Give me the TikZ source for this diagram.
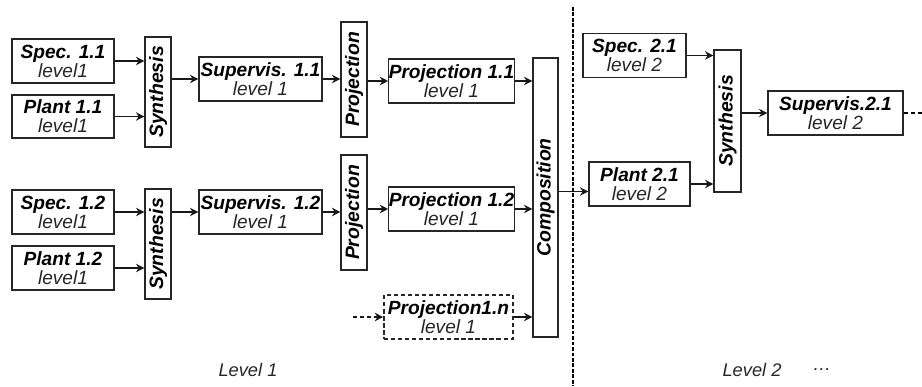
\documentclass[tikz,border=0pt]{standalone}
\usepackage{fontspec}
\setmainfont{Liberation Sans}
\usetikzlibrary{arrows.meta,calc}

\begin{document}
\begin{tikzpicture}[x=0.025cm,y=-0.025cm]
\tikzset{
  blockbox/.style={rectangle,draw=black!85,line width=0.8pt,minimum width=2.55cm,minimum height=1.1cm,inner sep=0pt,align=center,font=\fontsize{13.6}{14.5}\selectfont},
  vertbox/.style={rectangle,draw=black!85,line width=0.8pt,minimum width=0.65cm,inner sep=0pt,font=\fontsize{13.8}{14.5}\selectfont\bfseries\itshape},
  flowarrow/.style={draw=black!90,line width=1.2pt,-{Stealth[length=6pt,width=6pt]}},
  dashedarrow/.style={flowarrow,dash pattern=on 3pt off 2pt},
  levellabel/.style={font=\fontsize{13}{14}\selectfont\itshape,text=black!85}
}
\newcommand{\boxtext}[2]{\textbf{\textit{#1}}\\[-1pt]{\itshape\color{black!85}#2}}
\useasboundingbox (0,0) rectangle (922,387);
% level 1, first branch
\node[blockbox] (n_spec11) at (63,61) {\boxtext{Spec. 1.1}{level1}};
\node[blockbox,minimum height=1.075cm] (n_plant11) at (63,116.5) {\boxtext{Plant 1.1}{level1}};
\node[vertbox,minimum height=2.75cm] (n_synth11) at (158,92) {\rotatebox{90}{Synthesis}};
\node[blockbox,minimum width=3.075cm] (n_sup11) at (260.5,79) {\boxtext{Supervis. 1.1}{level 1}};
\node[vertbox,minimum height=2.875cm] (n_projv11) at (354,79.5) {\rotatebox{90}{Projection}};
\node[blockbox,minimum width=3.125cm] (n_proj11) at (451.5,81) {\boxtext{Projection 1.1}{level 1}};
% level 1, second branch
\node[blockbox] (n_spec12) at (63,212) {\boxtext{Spec. 1.2}{level1}};
\node[blockbox] (n_plant12) at (63,268) {\boxtext{Plant 1.2}{level1}};
\node[vertbox,minimum height=2.75cm] (n_synth12) at (158,244) {\rotatebox{90}{Synthesis}};
\node[blockbox,minimum width=3.075cm] (n_sup12) at (260.5,212) {\boxtext{Supervis. 1.2}{level 1}};
\node[vertbox,minimum height=2.875cm] (n_projv12) at (354,212.5) {\rotatebox{90}{Projection}};
\node[blockbox,minimum width=3.125cm] (n_proj12) at (451.5,209) {\boxtext{Projection 1.2}{level 1}};
\node[blockbox,minimum width=3.225cm,line width=1.1pt,dash pattern=on 3pt off 2pt] (n_proj1n) at (448.5,317) {\boxtext{Projection1.n}{level 1}};
\node[vertbox,minimum width=0.625cm,minimum height=6.975cm] (n_comp) at (545.5,197.5) {\rotatebox{90}{Composition}};
% level 2
\node[blockbox,minimum width=2.575cm] (n_spec21) at (634.5,55.5) {\boxtext{Spec. 2.1}{level 2}};
\node[blockbox,minimum width=2.525cm] (n_plant21) at (639.5,184) {\boxtext{Plant 2.1}{level 2}};
\node[vertbox,minimum width=0.675cm,minimum height=3.55cm] (n_synth21) at (727.5,121) {\rotatebox{90}{Synthesis}};
\node[blockbox,minimum width=3.375cm] (n_sup21) at (835.5,113) {\boxtext{Supervis.2.1}{level 2}};
\coordinate (c_in1n) at (353,317);
\coordinate (c_compout) at ($(n_comp.east)+(0,-6)$);
\coordinate (c_out21) at (922,113);
\coordinate (c_divtop) at (573,7);
\coordinate (c_divbot) at (573,386);
\draw[flowarrow] (n_spec11.east) -- (n_spec11.east -| n_synth11.west);
\draw[flowarrow] (n_plant11.east) -- (n_plant11.east -| n_synth11.west);
\draw[flowarrow] (n_sup11.west -| n_synth11.east) -- (n_sup11.west);
\draw[flowarrow] (n_sup11.east) -- (n_sup11.east -| n_projv11.west);
\draw[flowarrow] (n_proj11.west -| n_projv11.east) -- (n_proj11.west);
\draw[flowarrow] (n_proj11.east) -- (n_proj11.east -| n_comp.west);
\draw[flowarrow] (n_spec12.east) -- (n_spec12.east -| n_synth12.west);
\draw[flowarrow] (n_plant12.east) -- (n_plant12.east -| n_synth12.west);
\draw[flowarrow] (n_sup12.west -| n_synth12.east) -- (n_sup12.west);
\draw[flowarrow] (n_sup12.east) -- (n_sup12.east -| n_projv12.west);
\draw[flowarrow] (n_proj12.west -| n_projv12.east) -- (n_proj12.west);
\draw[flowarrow] (n_proj12.east) -- (n_proj12.east -| n_comp.west);
\draw[dashedarrow] (c_in1n) -- (n_proj1n.west);
\draw[flowarrow] (n_proj1n.east) -- (n_proj1n.east -| n_comp.west);
\draw[flowarrow] (c_compout) -- (c_compout -| n_plant21.west);
\draw[flowarrow] (n_spec21.east) -- (n_spec21.east -| n_synth21.west);
\draw[flowarrow] (n_plant21.east) -- (n_plant21.east -| n_synth21.west);
\draw[flowarrow] (n_sup21.west -| n_synth21.east) -- (n_sup21.west);
\draw[line width=1.2pt,dash pattern=on 3pt off 2pt] (n_sup21.east) -- (c_out21);
% divider between levels
\draw[line width=1.1pt,dash pattern=on 2.6pt off 1.3pt] (c_divtop) -- (c_divbot);
\node[levellabel] (n_level1) at (248,370) {Level 1};
\node[levellabel] (n_level2) at (752,370) {Level 2};
\node[levellabel] (n_dots) at (822,370) {\dots};
\end{tikzpicture}
\end{document}
